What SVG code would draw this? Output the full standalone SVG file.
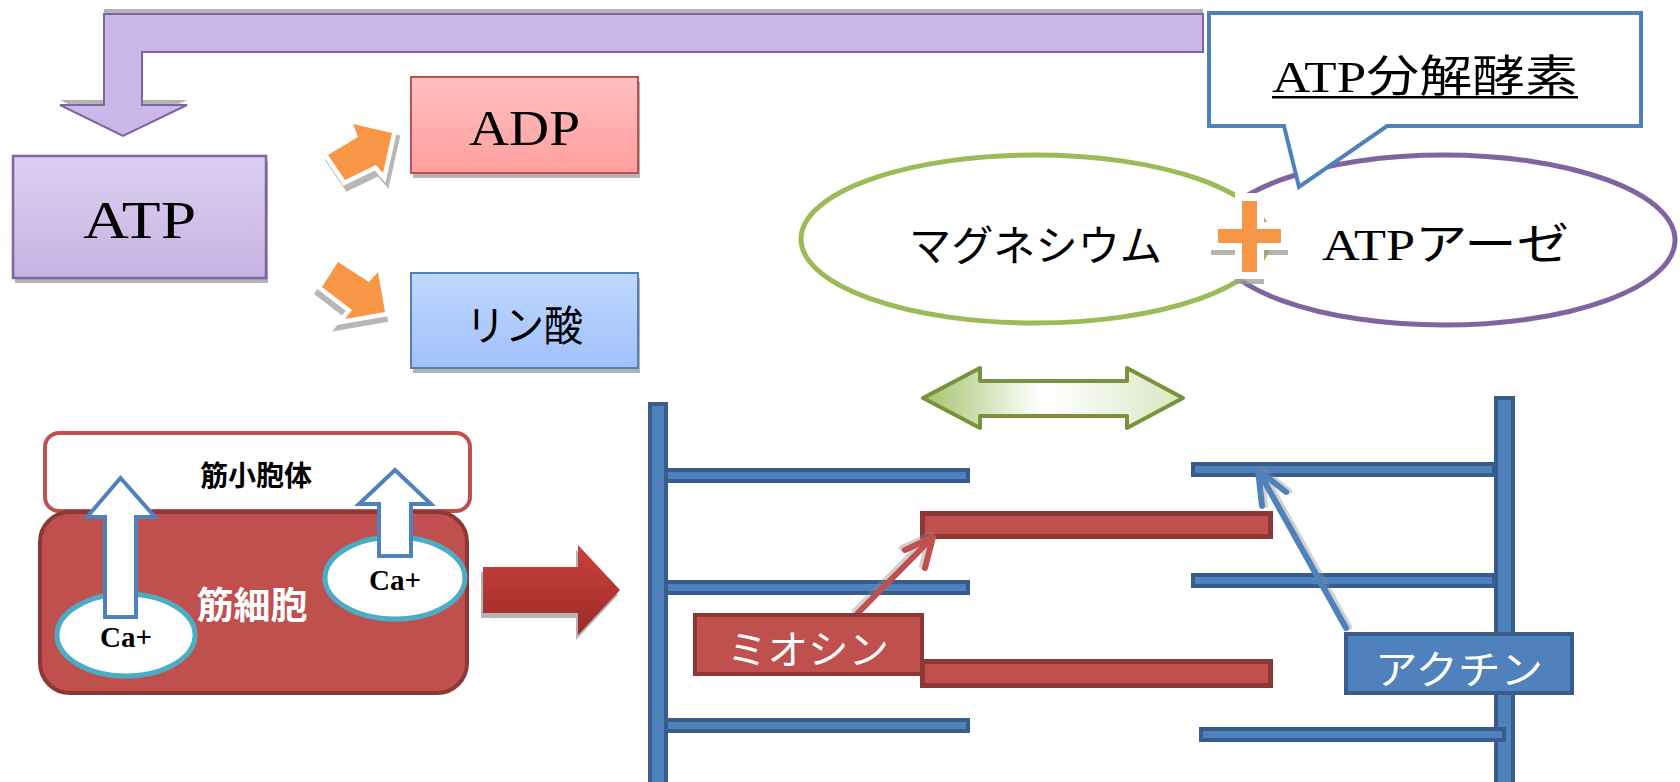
<svg xmlns="http://www.w3.org/2000/svg" width="1680" height="782" viewBox="0 0 1680 782">
  <defs>
    <linearGradient id="gPurple" x1="0" y1="0" x2="0" y2="1">
      <stop offset="0" stop-color="#DDD0F0"/>
      <stop offset="1" stop-color="#C6B2E2"/>
    </linearGradient>
    <linearGradient id="gPink" x1="0" y1="0" x2="0" y2="1">
      <stop offset="0" stop-color="#FFC0C0"/>
      <stop offset="1" stop-color="#FF9E9E"/>
    </linearGradient>
    <linearGradient id="gBlue" x1="0" y1="0" x2="0" y2="1">
      <stop offset="0" stop-color="#BFD8FF"/>
      <stop offset="1" stop-color="#A0C0F8"/>
    </linearGradient>
    <linearGradient id="gGreen" x1="923" y1="0" x2="1183" y2="0" gradientUnits="userSpaceOnUse">
      <stop offset="0" stop-color="#A3C36A"/>
      <stop offset="0.45" stop-color="#FFFFFF"/>
      <stop offset="0.55" stop-color="#FBFCF8"/>
      <stop offset="1" stop-color="#D9E6C0"/>
    </linearGradient>
    <linearGradient id="gRed" x1="0" y1="0" x2="0" y2="1">
      <stop offset="0" stop-color="#CC423D"/>
      <stop offset="1" stop-color="#9C2A27"/>
    </linearGradient>
    <style>
      .shadow { fill: #9A9A9A; opacity: 0.75; }
      .serif { font-family: "Liberation Serif", "Noto Sans CJK JP", serif; }
      .jp { font-family: "Noto Sans CJK JP", sans-serif; }
      .filament { fill: #4F81BD; stroke: #385D8A; stroke-width: 4; }
      .myosin { fill: #C0504D; stroke: #8C3836; stroke-width: 5; }
      .orange { fill: #F79646; stroke: none; }
      .orange-halo { fill: #FFFFFF; stroke: #FFFFFF; stroke-width: 9; stroke-linejoin: miter; }
      .orange-shadow { fill: none; stroke: #A5A5A5; stroke-width: 9; opacity: 0.8; }
      .ca-arrow { fill: #FFFFFF; stroke: #4F81BD; stroke-width: 4; }
      .ca-ring { fill: #FFFFFF; stroke: #4BACC6; stroke-width: 5; }
      .pointer { fill: none; stroke-linecap: round; stroke-linejoin: round; stroke-width: 6; }
      .pointer-shadow { stroke: #8A8A8A; opacity: 0.4; }
    </style>
  </defs>

  <!-- return arrow: enzyme feeds back to ATP -->
  <g id="return-arrow">
    <path class="shadow" transform="translate(0,-5)" d="M1203,14 H104 V105 H60 L123,136 L187,105 H142 V52 H1203 Z"/>
    <path d="M1203,14 H104 V105 H60 L123,136 L187,105 H142 V52 H1203 Z" fill="#CAB7E7" stroke="#8064A2" stroke-width="2"/>
  </g>

  <!-- ATP -->
  <g id="atp">
    <rect class="shadow" x="15" y="161" width="253" height="122"/>
    <rect x="13" y="156" width="253" height="122" fill="url(#gPurple)" stroke="#8064A2" stroke-width="2.5"/>
    <text class="serif" x="83" y="238" font-size="52" textLength="113" lengthAdjust="spacingAndGlyphs">ATP</text>
  </g>

  <!-- ADP -->
  <g id="adp">
    <rect class="shadow" x="413" y="82" width="227" height="96"/>
    <rect x="411" y="77" width="227" height="96" fill="url(#gPink)" stroke="#C0504D" stroke-width="2"/>
    <text class="serif" x="469" y="145" font-size="50" textLength="111" lengthAdjust="spacingAndGlyphs">ADP</text>
  </g>

  <!-- phosphate -->
  <g id="phosphate">
    <rect class="shadow" x="413" y="278" width="227" height="95"/>
    <rect x="411" y="273" width="227" height="95" fill="url(#gBlue)" stroke="#4F81BD" stroke-width="2"/>
    <text class="jp" x="524.5" y="341" font-size="42" text-anchor="middle" textLength="117" lengthAdjust="spacingAndGlyphs">リン酸</text>
  </g>

  <!-- hydrolysis arrows -->
  <g id="split-arrows">
    <g id="to-adp">
      <polygon class="orange-shadow" transform="translate(3,6)" points="328,155 358,137 353,124 392,133 383,173 376,165 345,180"/>
      <polygon class="orange-halo" points="328,155 358,137 353,124 392,133 383,173 376,165 345,180"/>
      <polygon class="orange" points="328,155 358,137 353,124 392,133 383,173 376,165 345,180"/>
    </g>
    <g id="to-phosphate">
      <polygon class="orange-shadow" transform="translate(-2,6)" points="338,262 369,282 378,272 385,312 345,319 352,310 322,287"/>
      <polygon class="orange-halo" points="338,262 369,282 378,272 385,312 345,319 352,310 322,287"/>
      <polygon class="orange" points="338,262 369,282 378,272 385,312 345,319 352,310 322,287"/>
    </g>
  </g>

  <!-- ATPase + magnesium -->
  <g id="atpase">
    <ellipse cx="1444" cy="240" rx="231" ry="85" fill="#FFFFFF" stroke="#8064A2" stroke-width="5"/>
  </g>
  <g id="magnesium">
    <ellipse cx="1035" cy="239" rx="234" ry="84" fill="#FFFFFF" stroke="#9BBB59" stroke-width="5"/>
    <text class="jp" x="909" y="261" font-size="42" textLength="253" lengthAdjust="spacingAndGlyphs">マグネシウム</text>
  </g>

  <!-- callout -->
  <g id="enzyme-callout">
    <path d="M1209,13 H1641 V126 H1387 L1299,187 L1284,126 H1209 Z" fill="#FFFFFF" stroke="#4F81BD" stroke-width="4"/>
    <text class="serif" x="1272" y="92" font-size="44" textLength="306" lengthAdjust="spacingAndGlyphs">ATP分解酵素</text>
    <rect x="1272" y="96" width="306" height="2.5" fill="#000000"/>
  </g>

  <g id="atpase-label">
    <text class="serif" x="1322" y="260" font-size="44" textLength="247" lengthAdjust="spacingAndGlyphs">ATPアーゼ</text>
  </g>

  <!-- plus sign -->
  <g id="plus">
    <path class="shadow" opacity="0.6" transform="translate(0,5)" d="M1235,193 H1264 V222 H1288 V250 H1264 V279 H1235 V250 H1211 V222 H1235 Z"/>
    <path d="M1235,193 H1264 V222 H1288 V250 H1264 V279 H1235 V250 H1211 V222 H1235 Z" fill="#FFFFFF"/>
    <path d="M1242,201 H1257 V229 H1281 V243 H1257 V272 H1242 V243 H1218 V229 H1242 Z" fill="#F79646"/>
  </g>

  <!-- sliding double arrow -->
  <g id="slide-arrow">
    <path d="M923,398 L980,368 V381 H1127 V368 L1183,398 L1127,428 V416 H980 V428 Z" fill="url(#gGreen)" stroke="#77933C" stroke-width="4" stroke-linejoin="round"/>
  </g>

  <!-- sarcoplasmic reticulum -->
  <g id="sarcoplasmic-reticulum">
    <rect x="45" y="433" width="425" height="78" rx="14" fill="#FFFFFF" stroke="#C0504D" stroke-width="4"/>
    <text class="jp" x="256" y="486" font-size="28" font-weight="bold" text-anchor="middle">筋小胞体</text>
  </g>

  <!-- muscle cell -->
  <g id="muscle-cell">
    <rect x="40" y="512" width="427" height="181" rx="30" fill="#C0504D" stroke="#8C3836" stroke-width="4"/>
    <text class="jp" x="252" y="619" font-size="37" font-weight="bold" fill="#FFFFFF" text-anchor="middle">筋細胞</text>
  </g>

  <g id="calcium-left">
    <ellipse class="ca-ring" cx="126" cy="635" rx="69" ry="41"/>
    <polygon class="ca-arrow" points="105,617 105,517 87,517 120.5,478 155,517 136,517 136,617"/>
    <text class="serif" x="126" y="647" font-size="29" font-weight="bold" text-anchor="middle">Ca+</text>
  </g>

  <g id="calcium-right">
    <ellipse class="ca-ring" cx="395" cy="578" rx="70" ry="41"/>
    <polygon class="ca-arrow" points="379,556 379,504 359,504 395,470 431,504 411,504 411,556"/>
    <text class="serif" x="395" y="590" font-size="29" font-weight="bold" text-anchor="middle">Ca+</text>
  </g>

  <!-- cell to sarcomere -->
  <g id="transition-arrow">
    <path class="shadow" transform="translate(-2,5)" d="M483,567 H578 V545 L620,590 L578,635 V613 H483 Z"/>
    <path d="M483,567 H578 V545 L620,590 L578,635 V613 H483 Z" fill="url(#gRed)"/>
  </g>

  <!-- sarcomere: Z-lines and thin filaments -->
  <g id="z-line-left">
    <rect class="filament" x="650" y="404" width="16" height="380"/>
    <rect class="filament" x="666" y="470" width="302" height="11"/>
    <rect class="filament" x="666" y="582" width="302" height="11"/>
    <rect class="filament" x="666" y="720" width="302" height="11"/>
  </g>
  <g id="z-line-right">
    <rect class="filament" x="1193" y="464" width="301" height="11"/>
    <rect class="filament" x="1193" y="575" width="301" height="11"/>
    <rect class="filament" x="1496" y="398" width="17" height="386"/>
    <rect class="filament" x="1201" y="729" width="303" height="11"/>
  </g>

  <!-- thick filaments -->
  <g id="myosin-filaments">
    <rect class="myosin" x="922.5" y="513.5" width="348" height="23"/>
    <rect class="myosin" x="922.5" y="661.5" width="348" height="24"/>
  </g>

  <!-- labels with pointers -->
  <g id="connectors">
    <g id="myosin-pointer" class="pointer">
      <path class="pointer-shadow" d="M858,613 L933,537 M905,550 L933,537 L925,568" transform="translate(-3,-2)"/>
      <path d="M858,613 L933,537 M905,550 L933,537 L925,568" stroke="#C0504D"/>
    </g>
    <g id="actin-pointer" class="pointer">
      <path class="pointer-shadow" d="M1346,628 L1258,470 M1286,492 L1258,470 L1262,506" transform="translate(3,-1)"/>
      <path d="M1346,628 L1258,470 M1286,492 L1258,470 L1262,506" stroke="#4F81BD"/>
    </g>
  </g>

  <g id="myosin-label">
    <rect x="695" y="615" width="227" height="59" fill="#C0504D" stroke="#8C3836" stroke-width="4"/>
    <text class="jp" x="727" y="664" font-size="40" fill="#FFFFFF" textLength="162" lengthAdjust="spacingAndGlyphs">ミオシン</text>
  </g>

  <g id="actin-label">
    <rect x="1346" y="634" width="226" height="59" fill="#4F81BD" stroke="#385D8A" stroke-width="4"/>
    <text class="jp" x="1375" y="684" font-size="40" fill="#FFFFFF" textLength="168" lengthAdjust="spacingAndGlyphs">アクチン</text>
  </g>
</svg>
